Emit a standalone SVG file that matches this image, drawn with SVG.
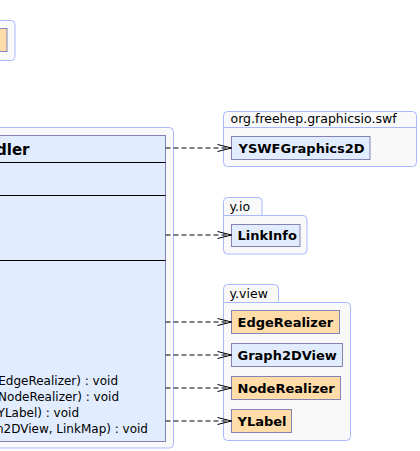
<svg xmlns="http://www.w3.org/2000/svg" width="420" height="451" viewBox="0 0 420 451">
<style>
.pkg{fill:#f9f9f9;stroke:#aab8ff;stroke-width:1}
.cls{fill:#e1edff;stroke:#8484b4;stroke-width:1}
.ext{fill:#ffdca8;stroke:#8484b4;stroke-width:1}
.div{stroke:#000;stroke-width:1}
.pl{font-family:"DejaVu Sans",sans-serif;font-size:12.5px;fill:#000}
.cn{font-family:"DejaVu Sans",sans-serif;font-size:13px;font-weight:bold;fill:#000}
.hd{font-family:"DejaVu Sans",sans-serif;font-size:15px;font-weight:bold;fill:#000}
.mt{font-family:"DejaVu Sans",sans-serif;font-size:12px;fill:#000}
.dep{fill:none;stroke:#000;stroke-width:1;stroke-dasharray:5,3}
</style>
<defs>
<marker id="open" markerUnits="userSpaceOnUse" markerWidth="16" markerHeight="10" refX="15" refY="5" orient="auto">
<path d="M1,1.5 L15,5 L1,8.5" fill="none" stroke="#000" stroke-width="1"/>
</marker>
</defs>
<g id="pkg-topleft">
<rect class="pkg" x="-10" y="20.5" width="25" height="40" rx="4"/>
<rect class="ext" x="-20" y="28.5" width="27" height="23"/>
</g>
<g id="pkg-main">
<rect class="pkg" x="-10" y="127.5" width="183.5" height="320.5" rx="4"/>
</g>
<g id="class-handler">
<rect class="cls" x="-10" y="135.5" width="175.5" height="306"/>
<line class="div" x1="-10" y1="162.5" x2="165.5" y2="162.5"/>
<line class="div" x1="-10" y1="195.5" x2="165.5" y2="195.5"/>
<line class="div" x1="-10" y1="260.5" x2="165.5" y2="260.5"/>
<text class="hd" x="29.5" y="154.5" text-anchor="end">dler</text>
<text class="mt" x="118" y="384.5" text-anchor="end">EdgeRealizer) : void</text>
<text class="mt" x="119" y="400.5" text-anchor="end">NodeRealizer) : void</text>
<text class="mt" x="79" y="416.5" text-anchor="end">YLabel) : void</text>
<text class="mt" x="148" y="432.5" text-anchor="end">n2DView, LinkMap) : void</text>
</g>
<g id="pkg-freehep">
<rect class="pkg" x="223.5" y="111.5" width="193" height="55" rx="4"/>
<line x1="223.5" y1="127.5" x2="416.5" y2="127.5" stroke="#aab8ff"/>
<text class="pl" x="230.5" y="123">org.freehep.graphicsio.swf</text>
</g>
<g id="YSWFGraphics2D">
<rect class="cls" x="231.5" y="136.5" width="138.5" height="23"/>
<text class="cn" x="238.5" y="152.5">YSWFGraphics2D</text>
</g>
<g id="pkg-yio">
<path class="pkg" d="M223.5,215.5 V201.5 Q223.5,197.5 227.5,197.5 H258 Q262,197.5 262,201.5 V215.5 H303 Q307,215.5 307,219.5 V250 Q307,254 303,254 H227.5 Q223.5,254 223.5,250 Z"/>
<line x1="223.5" y1="215.5" x2="262" y2="215.5" stroke="#aab8ff"/>
<text class="pl" x="229.5" y="211">y.io</text>
</g>
<g id="LinkInfo">
<rect class="cls" x="231.5" y="224.5" width="68.5" height="22"/>
<text class="cn" x="237.5" y="240">LinkInfo</text>
</g>
<g id="pkg-yview">
<path class="pkg" d="M223.5,302.5 V288.5 Q223.5,284.5 227.5,284.5 H274.5 Q278.5,284.5 278.5,288.5 V302.5 H346.5 Q350.5,302.5 350.5,306.5 V436.5 Q350.5,440.5 346.5,440.5 H227.5 Q223.5,440.5 223.5,436.5 Z"/>
<line x1="223.5" y1="302.5" x2="278.5" y2="302.5" stroke="#aab8ff"/>
<text class="pl" x="229.5" y="298">y.view</text>
</g>
<g id="EdgeRealizer">
<rect class="ext" x="231.5" y="310.5" width="108" height="23"/>
<text class="cn" x="237.5" y="327">EdgeRealizer</text>
</g>
<g id="Graph2DView">
<rect class="cls" x="231.5" y="343.5" width="111" height="23"/>
<text class="cn" x="237.5" y="360">Graph2DView</text>
</g>
<g id="NodeRealizer">
<rect class="ext" x="231.5" y="376.5" width="109" height="23"/>
<text class="cn" x="237.5" y="393">NodeRealizer</text>
</g>
<g id="YLabel">
<rect class="ext" x="231.5" y="409.5" width="60" height="23"/>
<text class="cn" x="237.5" y="426">YLabel</text>
</g>
<g id="connectors">
<line class="dep" x1="165.5" y1="148" x2="231.5" y2="148" marker-end="url(#open)"/>
<line class="dep" x1="165.5" y1="235" x2="231.5" y2="235" marker-end="url(#open)"/>
<line class="dep" x1="165.5" y1="322" x2="231.5" y2="322" marker-end="url(#open)"/>
<line class="dep" x1="165.5" y1="355" x2="231.5" y2="355" marker-end="url(#open)"/>
<line class="dep" x1="165.5" y1="388" x2="231.5" y2="388" marker-end="url(#open)"/>
<line class="dep" x1="165.5" y1="421" x2="231.5" y2="421" marker-end="url(#open)"/>
</g>
</svg>
